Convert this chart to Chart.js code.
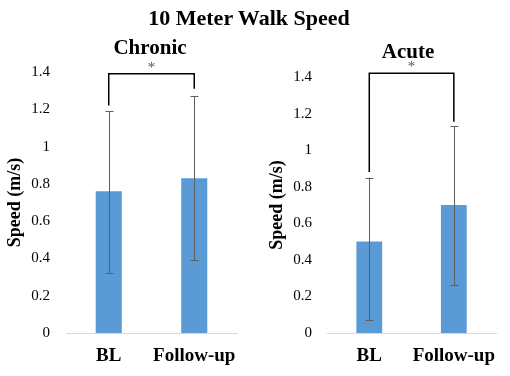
<!DOCTYPE html>
<html>
<head>
<meta charset="utf-8">
<script src="https://cdn.jsdelivr.net/npm/chart.js@4/dist/chart.umd.min.js"></script>
<style>
    body { margin: 0; background: #fff; }
    #wrap { position: relative; width: 510px; height: 376px; font-family: "Liberation Serif", serif; }
    .txt { position: absolute; font-weight: bold; font-size: 21px; line-height: 21px; white-space: nowrap; transform: translateX(-50%); }
    .panel { position: absolute; top: 0; width: 255px; height: 376px; }
</style>
</head>
<body>
<div id="wrap">
    <div class="panel" style="left:0"><canvas id="chronic" width="255" height="376"></canvas></div>
    <div class="panel" style="left:255px"><canvas id="acute" width="255" height="376"></canvas></div>
    <div class="txt" style="left:249px; top:7px; font-size:22px; line-height:22px">10 Meter Walk Speed</div>
    <div class="txt" style="left:150px; top:37px">Chronic</div>
    <div class="txt" style="left:408px; top:41px">Acute</div>
</div>
<script>
// data
const categories = ['BL', 'Follow-up'];
const yTickLabels = ['0', '0.2', '0.4', '0.6', '0.8', '1', '1.2', '1.4'];

const chronicMeans = [0.76, 0.83];
const chronicUpper = [1.19, 1.27];
const chronicLower = [0.32, 0.39];
const chronicBracketTop = 1.39;
const chronicBracketEnds = [1.22, 1.31];

const acuteMeans = [0.50, 0.70];
const acuteUpper = [0.85, 1.13];
const acuteLower = [0.07, 0.26];
const acuteBracketTop = 1.42;
const acuteBracketEnds = [0.88, 1.155];

const serif = '"Liberation Serif", serif';

// error bars + significance bracket, all through the scales
const extrasPlugin = {
    id: 'extras',
    afterDatasetsDraw(chart, args, opts) {
        const ctx = chart.ctx;
        const x = chart.scales.x;
        const y = chart.scales.y;
        ctx.save();
        ctx.strokeStyle = '#5f5f5f';
        ctx.lineWidth = 1;
        opts.upper.forEach((hi, i) => {
            const cx = Math.round(x.getPixelForValue(i)) + 0.5;
            const yHi = y.getPixelForValue(hi);
            const yLo = y.getPixelForValue(opts.lower[i]);
            ctx.beginPath();
            ctx.moveTo(cx, yHi);
            ctx.lineTo(cx, yLo);
            ctx.moveTo(cx - 4, Math.round(yHi) + 0.5);
            ctx.lineTo(cx + 4, Math.round(yHi) + 0.5);
            ctx.moveTo(cx - 4, Math.round(yLo) + 0.5);
            ctx.lineTo(cx + 4, Math.round(yLo) + 0.5);
            ctx.stroke();
        });

        // bracket
        const x0 = x.getPixelForValue(0);
        const x1 = x.getPixelForValue(1);
        const yTop = y.getPixelForValue(opts.bracketTop);
        ctx.strokeStyle = '#000';
        ctx.lineWidth = 1.5;
        ctx.beginPath();
        ctx.moveTo(x0, y.getPixelForValue(opts.bracketEnds[0]));
        ctx.lineTo(x0, yTop);
        ctx.lineTo(x1, yTop);
        ctx.lineTo(x1, y.getPixelForValue(opts.bracketEnds[1]));
        ctx.stroke();

        ctx.fillStyle = '#44546a';
        ctx.font = '15px ' + serif;
        ctx.textAlign = 'center';
        ctx.textBaseline = 'middle';
        ctx.fillText('*', (x0 + x1) / 2, yTop - 6);
        ctx.restore();
    }
};

const makeChart = function (id, means, upper, lower, bracketTop, bracketEnds, layout) {
    return new Chart(document.getElementById(id), {
        type: 'bar',
        data: {
            labels: categories,
            datasets: [{
                data: means,
                backgroundColor: '#5b9bd5',
                categoryPercentage: 1,
                barPercentage: 0.305
            }]
        },
        options: {
            responsive: false,
            animation: false,
            layout: { padding: { top: layout.top, right: layout.right, left: 0, bottom: 0 } },
            plugins: {
                legend: { display: false },
                tooltip: { enabled: false },
                extras: { upper, lower, bracketTop, bracketEnds }
            },
            scales: {
                x: {
                    grid: { display: false, drawTicks: false },
                    border: { display: true, color: '#d9d9d9', width: 1 },
                    ticks: {
                        padding: 12,
                        maxRotation: 0,
                        minRotation: 0,
                        autoSkip: false,
                        color: '#000',
                        font: { family: serif, size: 19, weight: 'bold' }
                    },
                    afterFit(scale) { scale.height = 43; }
                },
                y: {
                    min: 0,
                    max: 1.4,
                    grid: { display: false, drawTicks: false },
                    border: { display: false },
                    ticks: {
                        stepSize: 0.2,
                        padding: layout.tickPad,
                        color: '#000',
                        font: { family: serif, size: 15 },
                        callback: (v, i) => yTickLabels[i]
                    },
                    title: {
                        display: true,
                        text: 'Speed (m/s)',
                        color: '#000',
                        padding: { top: layout.titlePad, bottom: 0 },
                        font: { family: serif, size: 18, weight: 'bold' }
                    },
                    afterFit(scale) { scale.width = layout.yWidth; }
                }
            }
        },
        plugins: [extrasPlugin]
    });
};

makeChart('chronic', chronicMeans, chronicUpper, chronicLower, chronicBracketTop, chronicBracketEnds,
    { top: 72, right: 18, yWidth: 66, tickPad: 16, titlePad: 5 });
makeChart('acute', acuteMeans, acuteUpper, acuteLower, acuteBracketTop, acuteBracketEnds,
    { top: 77, right: 12, yWidth: 72, tickPad: 15, titlePad: 12 });
</script>
</body>
</html>
